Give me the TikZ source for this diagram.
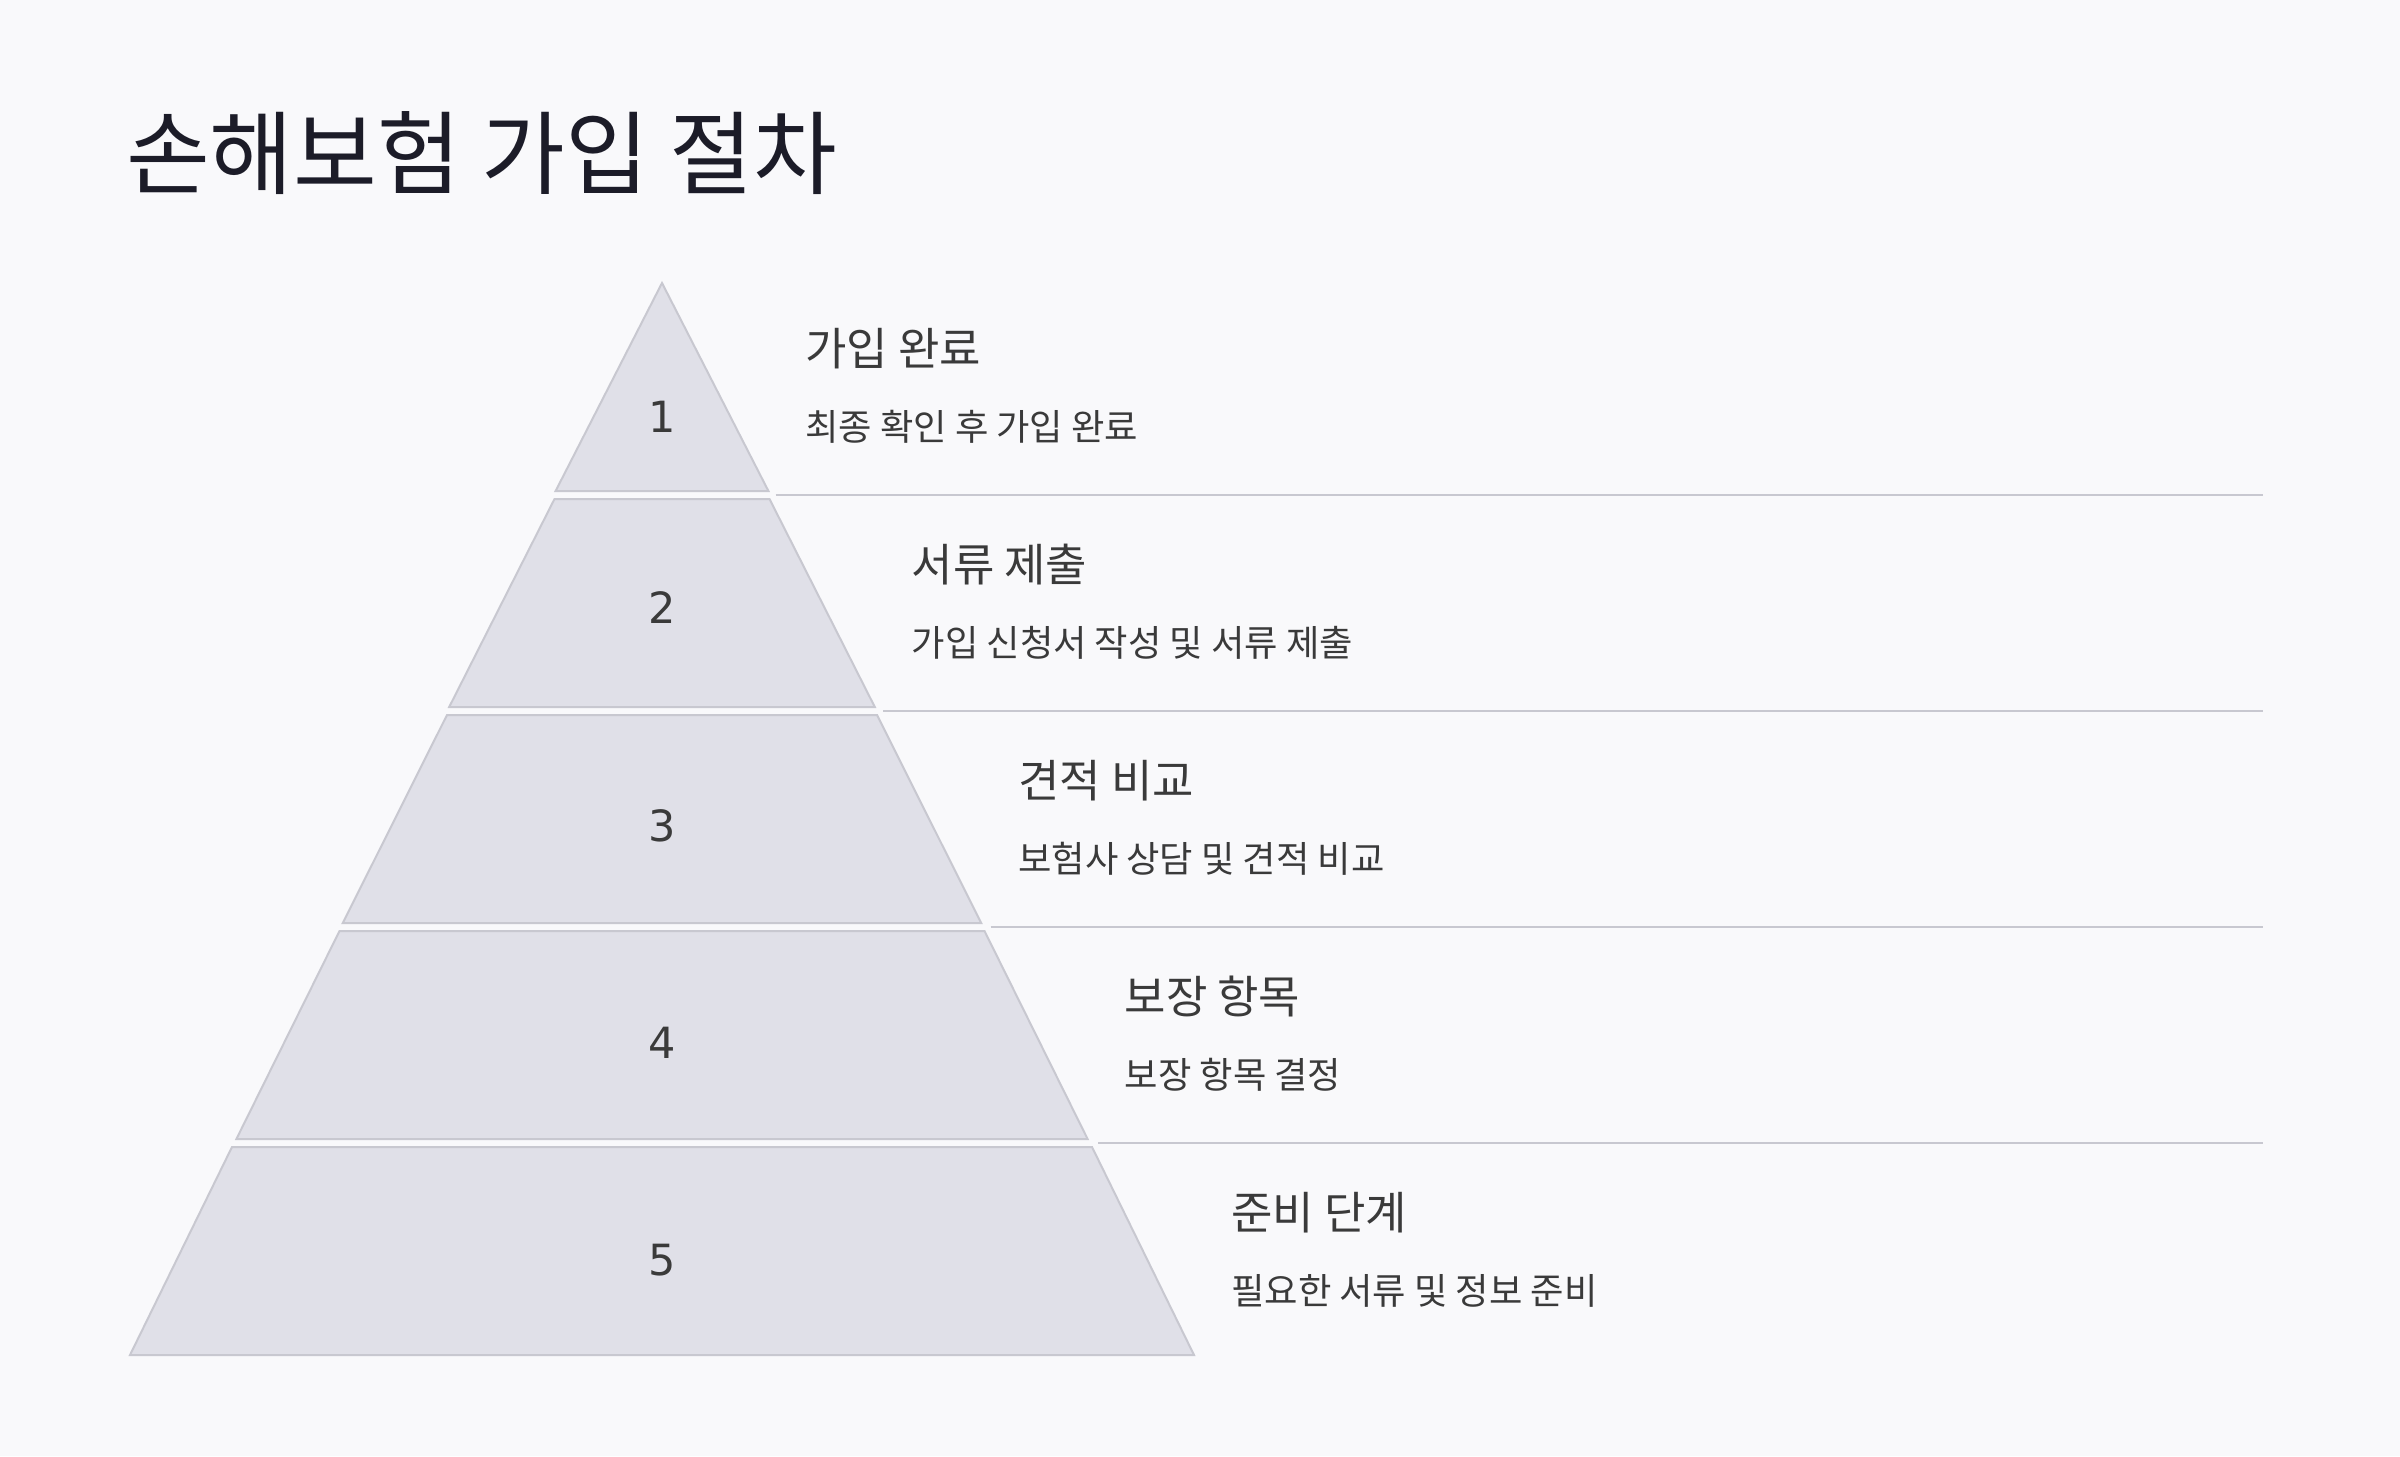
\documentclass[tikz,border=0pt]{standalone}
\usepackage{fontspec}
\setmainfont{Noto Sans CJK KR}
\newfontfamily\numfont{DejaVu Sans}
\definecolor{bgc}{HTML}{F9F9FB}
\definecolor{layerfill}{HTML}{E0E0E8}
\definecolor{layerline}{HTML}{C8C8D0}
\definecolor{titlec}{HTML}{1C1C28}
\definecolor{textc}{HTML}{3A3A3A}
\begin{document}
\begin{tikzpicture}[x=1pt,y=-1pt,
  layer/.style={fill=layerfill,draw=layerline,line width=2pt,line join=miter},
  sepline/.style={draw=layerline,line width=2pt},
  titletext/.style={anchor=base west,inner sep=0pt,text=titlec,font=\fontsize{91}{100}\selectfont},
  headtext/.style={anchor=base west,inner sep=0pt,text=textc,font=\fontsize{45}{52}\selectfont},
  desctext/.style={anchor=base west,inner sep=0pt,text=textc,font=\fontsize{36.3}{42}\selectfont},
  numtext/.style={anchor=center,inner sep=0pt,text=textc,font=\numfont\fontsize{43}{50}\selectfont}]
\fill[bgc] (0,0) rectangle (2400,1456);
\useasboundingbox (0,0) rectangle (2400,1456);
\node[titletext] (title) at (126,187) {손해보험 가입 절차};
% layers
\foreach \i in {1,...,5}{
  \pgfmathsetmacro{\yt}{283+216*(\i-1)}
  \pgfmathsetmacro{\yb}{\yt+208}
  \pgfmathsetmacro{\ht}{107.5*(\i-1)}
  \pgfmathsetmacro{\hb}{106.4*\i}
  \draw[layer] (662-\ht,\yt) -- (662+\ht,\yt) -- (662+\hb,\yb) -- (662-\hb,\yb) -- cycle;
}
% separator lines
\foreach \i in {1,...,4}{
  \pgfmathsetmacro{\ys}{495+216*(\i-1)}
  \pgfmathsetmacro{\xs}{662+107.5*\i+6}
  \coordinate (s\i a) at (\xs,\ys);
  \coordinate (s\i b) at (2263,\ys);
  \draw[sepline] (s\i a) -- (s\i b);
}
% numbers
\node[numtext] (n1) at (662,417) {1};
\node[numtext] (n2) at (662,608) {2};
\node[numtext] (n3) at (662,826) {3};
\node[numtext] (n4) at (662,1043) {4};
\node[numtext] (n5) at (662,1260) {5};
% texts
\node[headtext] (h1) at (805,365) {가입 완료};
\node[desctext] (d1) at (805,440) {최종 확인 후 가입 완료};
\node[headtext] (h2) at (911.5,581) {서류 제출};
\node[desctext] (d2) at (911.5,656) {가입 신청서 작성 및 서류 제출};
\node[headtext] (h3) at (1018,797) {견적 비교};
\node[desctext] (d3) at (1018,872) {보험사 상담 및 견적 비교};
\node[headtext] (h4) at (1124.5,1013) {보장 항목};
\node[desctext] (d4) at (1124.5,1088) {보장 항목 결정};
\node[headtext] (h5) at (1231,1229) {준비 단계};
\node[desctext] (d5) at (1231,1304) {필요한 서류 및 정보 준비};
\end{tikzpicture}
\end{document}
